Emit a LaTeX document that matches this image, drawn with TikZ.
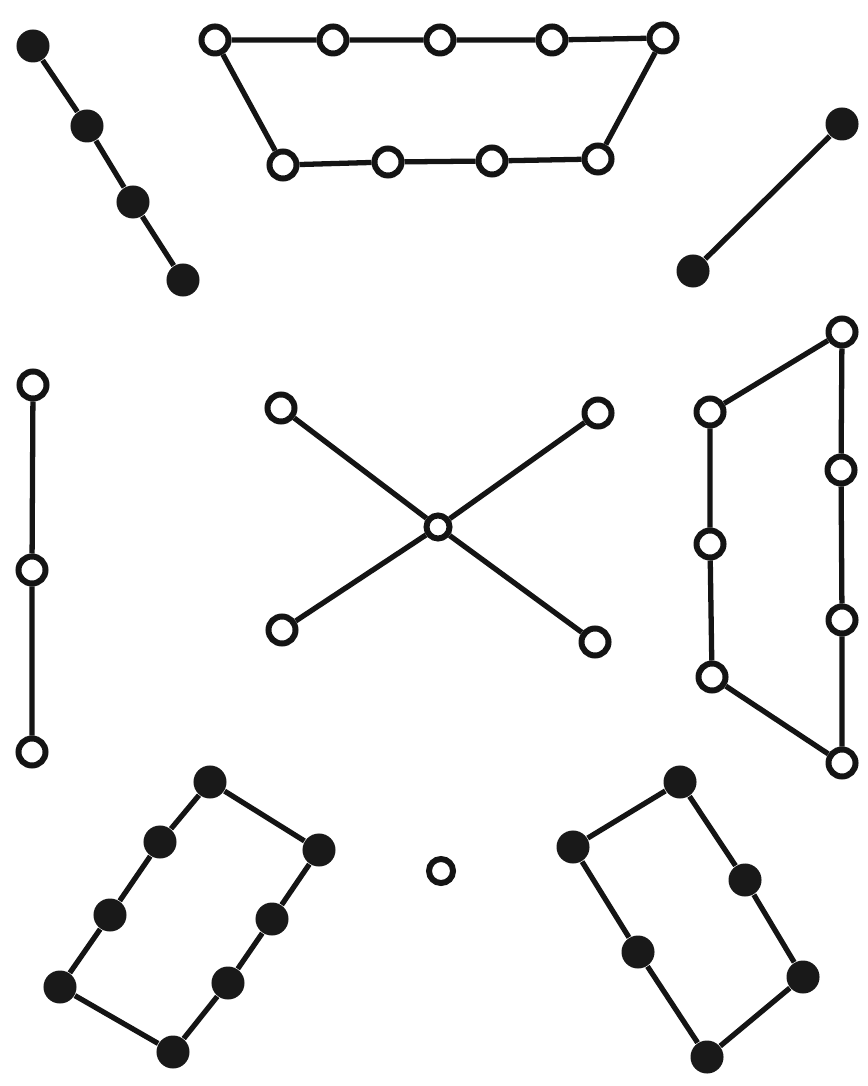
\documentclass[tikz,border=0pt]{standalone}
\usetikzlibrary{arrows,shapes}
\begin{document}
\begin{tikzpicture}[x=0.01cm,y=-0.01cm,
	yang/.style={circle,draw=color3,fill=white,line width=1.7pt,minimum size=0.27cm,inner sep=0pt},
	yin/.style={circle,fill=color2,minimum size=0.33cm,inner sep=0pt},
	link/.style={draw=color3,line width=1.5pt}]
	\definecolor{color2}{gray}{0.1}
	\definecolor{color3}{gray}{0.08}
	\useasboundingbox (0,0) rectangle (867,1086);
	%% Nine (top) ------
	\node[yang] (n0) at (215,40) {};
	\node[yang] (n1) at (333,40) {};
	\node[yang] (n2) at (440,40) {};
	\node[yang] (n3) at (552,40) {};
	\node[yang] (n4) at (663,38) {};
	\node[yang] (n5) at (283,165) {};
	\node[yang] (n6) at (388,162) {};
	\node[yang] (n7) at (492,161) {};
	\node[yang] (n8) at (598,159) {};
	\draw[link] (n0) -- (n1) -- (n2) -- (n3) -- (n4) -- (n8) -- (n7) -- (n6) -- (n5) -- (n0);
	%% Four (top left) ------
	\node[yin] (f0) at (33,46) {};
	\node[yin] (f1) at (87,126) {};
	\node[yin] (f2) at (133,202) {};
	\node[yin] (f3) at (183,280) {};
	\draw[link] (f0) -- (f1) -- (f2) -- (f3);
	%% Two (top right) ------
	\node[yin] (w0) at (842,124) {};
	\node[yin] (w1) at (693,271) {};
	\draw[link] (w0) -- (w1);
	%% Three (left) ------
	\node[yang] (h0) at (33,385) {};
	\node[yang] (h1) at (32,570) {};
	\node[yang] (h2) at (32,752) {};
	\draw[link] (h0) -- (h1) -- (h2);
	%% Seven (right) ------
	\node[yang] (s0) at (842,332) {};
	\node[yang] (s1) at (710,412) {};
	\node[yang] (s2) at (841,470) {};
	\node[yang] (s3) at (710,544) {};
	\node[yang] (s4) at (842,620) {};
	\node[yang] (s5) at (712,677) {};
	\node[yang] (s6) at (842,763) {};
	\draw[link] (s0) -- (s1) -- (s3) -- (s5) -- (s6) -- (s4) -- (s2) -- (s0);
	%% Five (centre) ------
	\node[yang,minimum size=0.23cm] (c0) at (438,527) {};
	\node[yang] (c1) at (281,408) {};
	\node[yang] (c2) at (598,413) {};
	\node[yang] (c3) at (282,630) {};
	\node[yang] (c4) at (595,642) {};
	\draw[link] (c0) -- (c1);
	\draw[link] (c0) -- (c2);
	\draw[link] (c0) -- (c3);
	\draw[link] (c0) -- (c4);
	%% One (bottom) ------
	\node[yang,minimum size=0.24cm] (o0) at (441,871) {};
	%% Eight (bottom left) ------
	\node[yin] (e0) at (210,782) {};
	\node[yin] (e1) at (160,842) {};
	\node[yin] (e2) at (110,915) {};
	\node[yin] (e3) at (60,987) {};
	\node[yin] (e4) at (173,1052) {};
	\node[yin] (e5) at (228,983) {};
	\node[yin] (e6) at (272,919) {};
	\node[yin] (e7) at (319,850) {};
	\draw[link] (e0) -- (e1) -- (e2) -- (e3) -- (e4) -- (e5) -- (e6) -- (e7) -- (e0);
	%% Six (bottom right) ------
	\node[yin] (x0) at (680,782) {};
	\node[yin] (x1) at (573,847) {};
	\node[yin] (x2) at (638,952) {};
	\node[yin] (x3) at (707,1057) {};
	\node[yin] (x4) at (803,977) {};
	\node[yin] (x5) at (745,880) {};
	\draw[link] (x0) -- (x1) -- (x2) -- (x3) -- (x4) -- (x5) -- (x0);
\end{tikzpicture}
\end{document}
